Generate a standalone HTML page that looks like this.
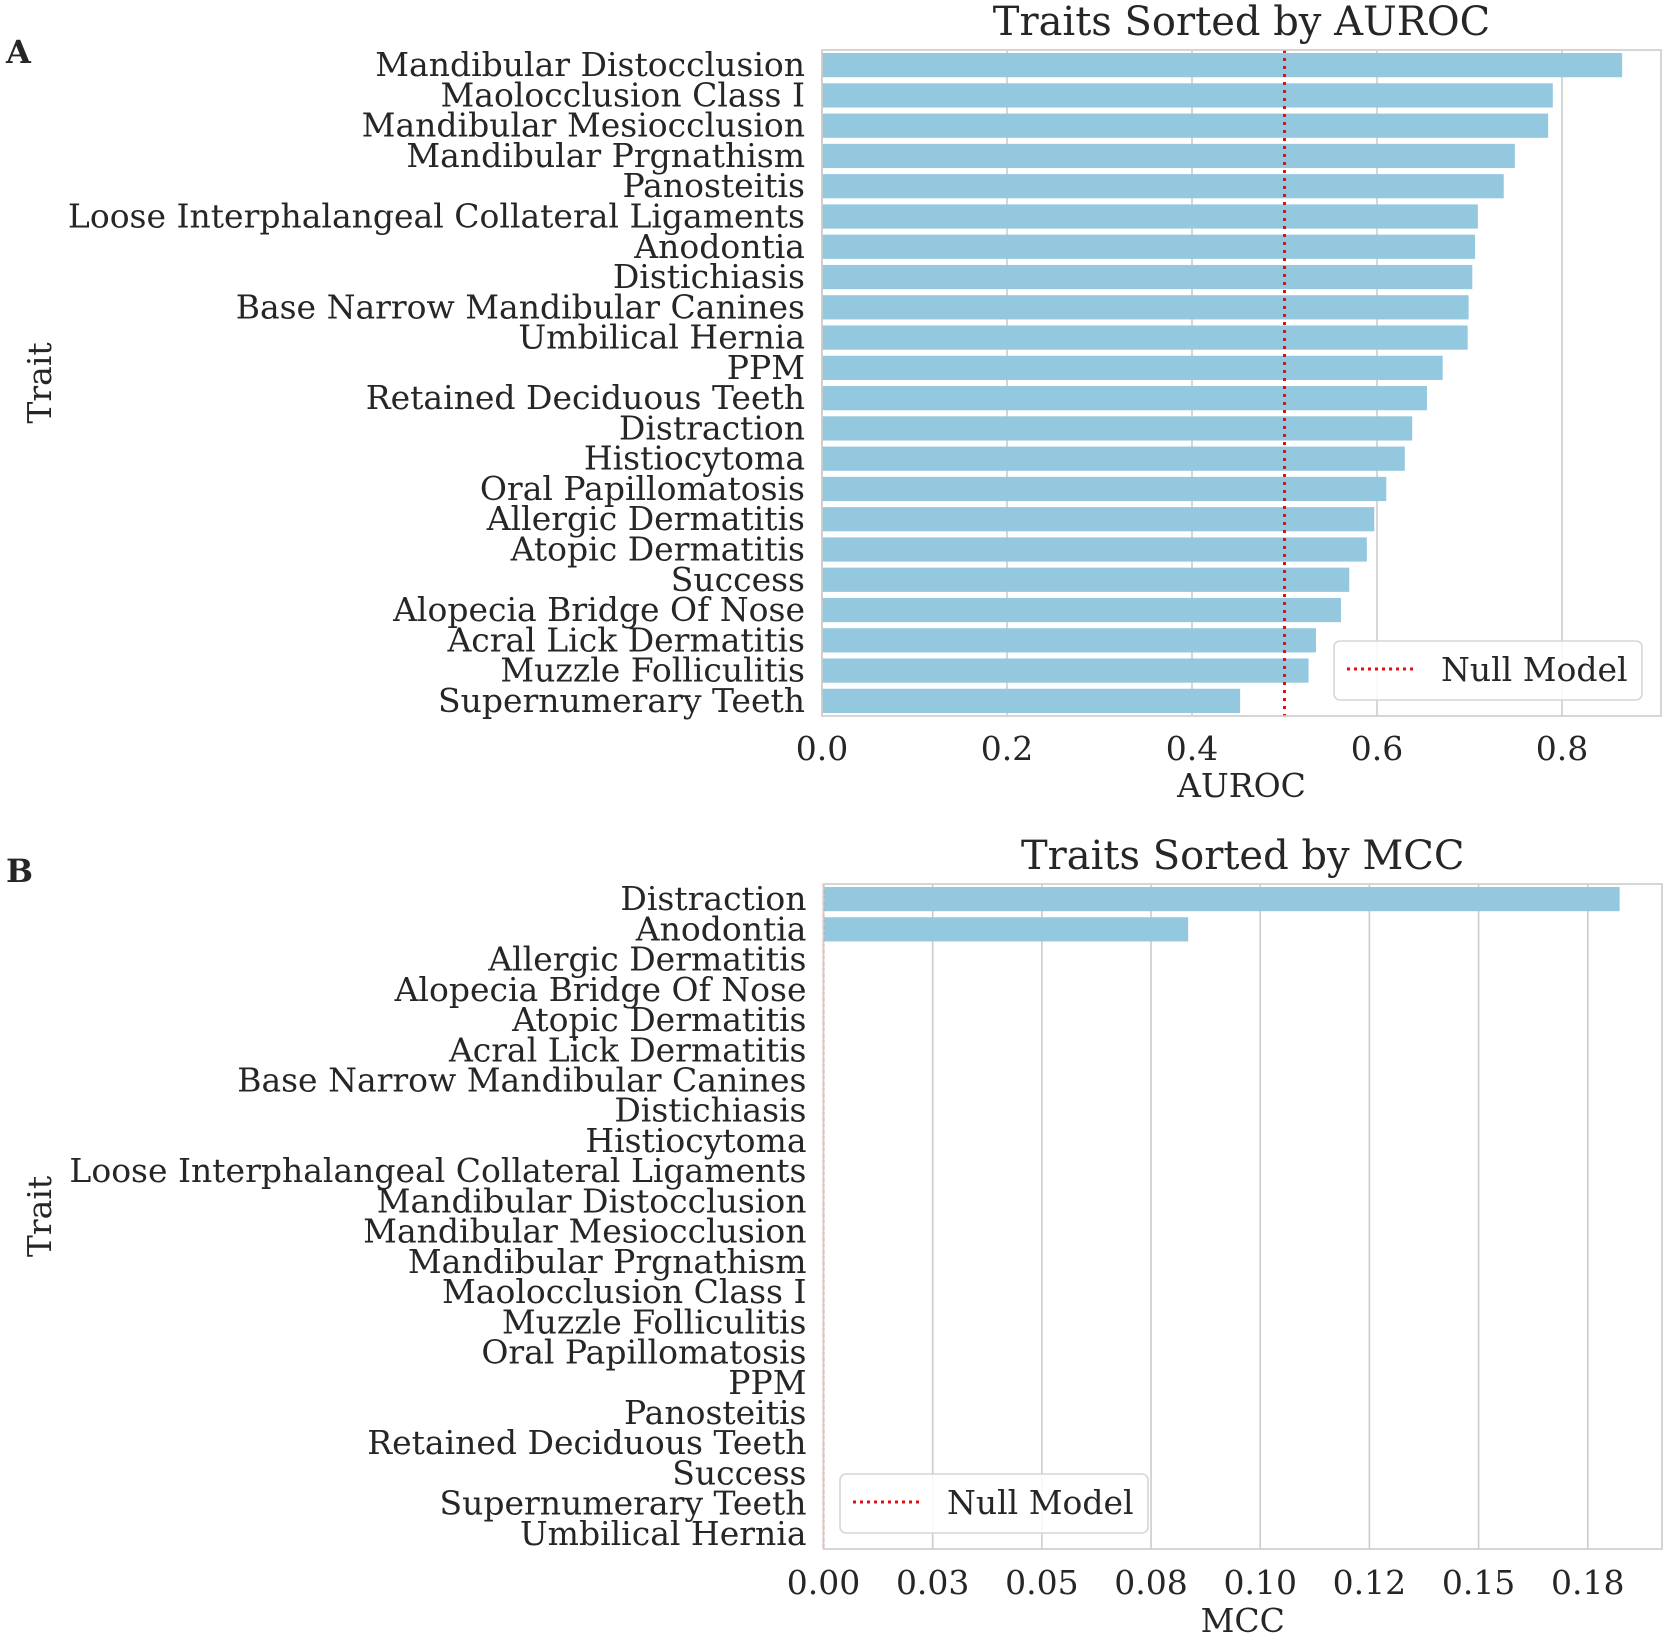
<!DOCTYPE html>
<html><head><meta charset="utf-8"><style>
html,body{margin:0;padding:0;background:#fff;}
svg{display:block;font-family:"DejaVu Serif","Liberation Serif",serif;}
</style></head><body>
<svg id="fig" width="1665" height="1640" viewBox="0 0 1665 1640" xmlns="http://www.w3.org/2000/svg">
<rect width="1665" height="1640" fill="#fff"/>
<g id="pa"></g>
<g id="pb"></g>
</svg>
<script>
const aurocTraits = ["Mandibular Distocclusion","Maolocclusion Class I","Mandibular Mesiocclusion","Mandibular Prgnathism","Panosteitis","Loose Interphalangeal Collateral Ligaments","Anodontia","Distichiasis","Base Narrow Mandibular Canines","Umbilical Hernia","PPM","Retained Deciduous Teeth","Distraction","Histiocytoma","Oral Papillomatosis","Allergic Dermatitis","Atopic Dermatitis","Success","Alopecia Bridge Of Nose","Acral Lick Dermatitis","Muzzle Folliculitis","Supernumerary Teeth"];
const aurocValues = [0.865,0.790,0.785,0.749,0.737,0.709,0.706,0.703,0.699,0.698,0.671,0.654,0.638,0.630,0.610,0.597,0.589,0.570,0.561,0.534,0.526,0.452];
const aurocTicks = [0.0,0.2,0.4,0.6,0.8];
const aurocTickLabels = ["0.0","0.2","0.4","0.6","0.8"];
const aurocNull = 0.5;

const mccTraits = ["Distraction","Anodontia","Allergic Dermatitis","Alopecia Bridge Of Nose","Atopic Dermatitis","Acral Lick Dermatitis","Base Narrow Mandibular Canines","Distichiasis","Histiocytoma","Loose Interphalangeal Collateral Ligaments","Mandibular Distocclusion","Mandibular Mesiocclusion","Mandibular Prgnathism","Maolocclusion Class I","Muzzle Folliculitis","Oral Papillomatosis","PPM","Panosteitis","Retained Deciduous Teeth","Success","Supernumerary Teeth","Umbilical Hernia"];
const mccValues = [0.1823,0.0835,0,0,0,0,0,0,0,0,0,0,0,0,0,0,0,0,0,0,0,0];
const mccTicks = [0,0.025,0.05,0.075,0.1,0.125,0.15,0.175];
const mccTickLabels = ["0.00","0.03","0.05","0.08","0.10","0.12","0.15","0.18"];
const mccNull = 0;

const NS="http://www.w3.org/2000/svg";
const FS=33;
function mk(parent,tag,attrs,text){const e=document.createElementNS(NS,tag);for(const k in attrs)e.setAttribute(k,attrs[k]);if(text!==undefined)e.textContent=text;parent.appendChild(e);return e;}

function panel(g,cfg){
  const L=cfg.left,R=cfg.right,T=cfg.top,B=cfg.bottom;
  const xs=v=>L+(v-cfg.xmin)/(cfg.xmax-cfg.xmin)*(R-L);
  const n=cfg.traits.length, step=(B-T)/n;
  const ys=i=>T+(i+0.5)*step;
  cfg.ticks.forEach((t,i)=>{
    const gl=mk(g,'line',{x1:xs(t),x2:xs(t),y1:T,y2:B,stroke:'#cccccc','stroke-width':1.6});
    
    
    const tl=mk(g,'text',{x:xs(t),y:cfg.tickY,'text-anchor':'middle','font-size':FS,fill:'#262626'},cfg.tickLabels[i]);
    
    
  });
  cfg.traits.forEach((tr,i)=>{
    const h=step*0.8;
    const w=Math.max(0,xs(cfg.values[i])-xs(0));
    const b=mk(g,'rect',{x:xs(0),y:ys(i)-h/2,width:w,height:h,fill:'#93c8df'});
    
    
    const lab=mk(g,'text',{x:L-17,y:ys(i)+11,'text-anchor':'end','font-size':FS,fill:'#262626'},tr);
    
    
  });
  const nl=mk(g,'line',{x1:xs(cfg.nullV),x2:xs(cfg.nullV),y1:T,y2:B,stroke:'#dd1111','stroke-width':cfg.nullW,'stroke-dasharray':cfg.nullDash});
  
  
  const fr=mk(g,'rect',{x:L,y:T,width:R-L,height:B-T,fill:'none',stroke:'#cccccc','stroke-width':1.6});
  
  
  const ti=mk(g,'text',{x:(L+R)/2,y:T-15,'text-anchor':'middle','font-size':40,fill:'#262626'},cfg.title);
  
  
  const xl=mk(g,'text',{x:(L+R)/2,y:cfg.xlabelY,'text-anchor':'middle','font-size':FS,fill:'#262626'},cfg.xlabel);
  
  
  const yl=mk(g,'text',{x:0,y:0,'text-anchor':'middle','font-size':FS,fill:'#262626',transform:`translate(51,${(T+B)/2}) rotate(-90)`},'Trait');
  
  
  const pl=mk(g,'text',{x:6,y:cfg.letterY,'font-size':32,'font-weight':'bold',fill:'#262626'},cfg.letter);
  
  
  const lg=mk(g,'g',{});
  
  
  const lx=cfg.legX, ly=cfg.legY;
  mk(lg,'rect',{x:lx,y:ly,width:308,height:59,rx:6,fill:'#fff','fill-opacity':0.85,stroke:'#d6d6d6','stroke-width':1.6});
  const ls=mk(lg,'line',{x1:lx+13,x2:lx+80,y1:ly+28,y2:ly+28,stroke:'#dd1111','stroke-width':3,'stroke-dasharray':'3 4'});
  
  
  const lt=mk(lg,'text',{x:lx+107,y:ly+40,'font-size':FS,fill:'#262626'},'Null Model');
  
  
}

panel(document.getElementById('pa'),{left:822,right:1661,top:50,bottom:716,xmin:0,xmax:0.907,traits:aurocTraits,values:aurocValues,ticks:aurocTicks,tickLabels:aurocTickLabels,tickY:760,xlabelY:797,title:'Traits Sorted by AUROC',xlabel:'AUROC',nullV:aurocNull,nullW:3,nullDash:'3 5',letter:'A',letterY:63,legX:1334,legY:641});
panel(document.getElementById('pb'),{left:823.5,right:1662,top:884,bottom:1549,xmin:0,xmax:0.192,traits:mccTraits,values:mccValues,ticks:mccTicks,tickLabels:mccTickLabels,tickY:1594,xlabelY:1632,title:'Traits Sorted by MCC',xlabel:'MCC',nullV:mccNull,nullW:1.5,nullDash:'3 3',letter:'B',letterY:882,legX:840,legY:1474});
</script>
</body></html>
